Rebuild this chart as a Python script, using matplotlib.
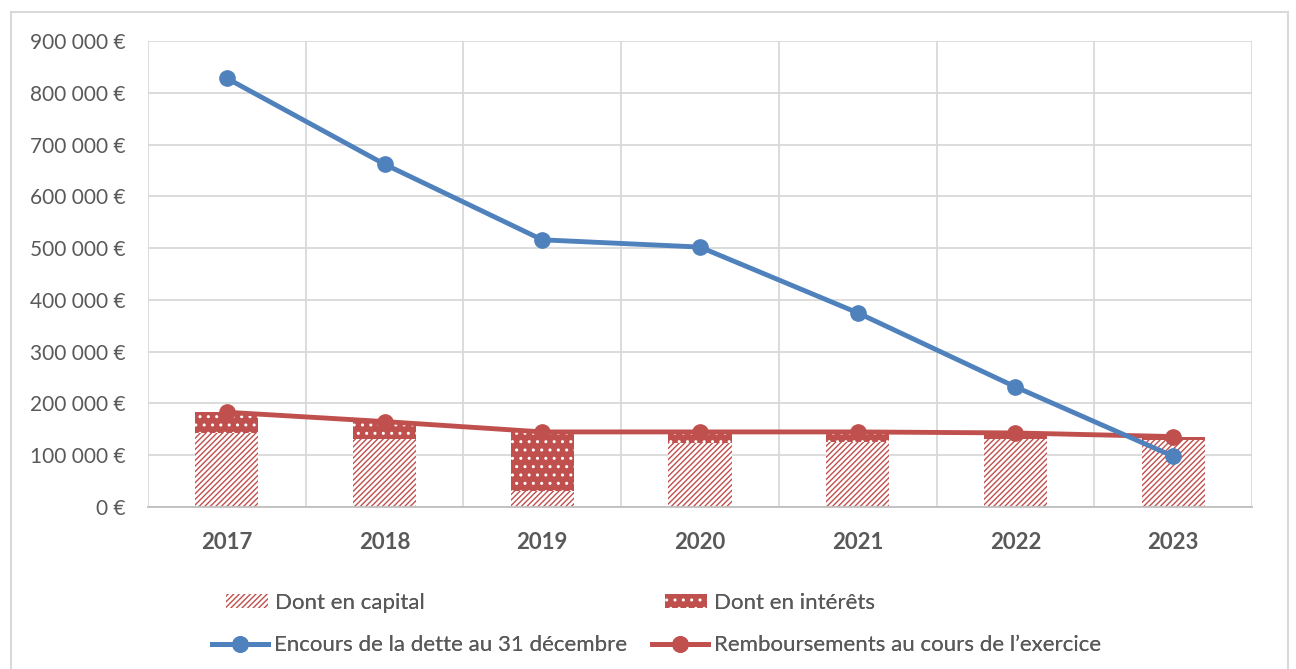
import matplotlib
matplotlib.use("Agg")
import matplotlib.pyplot as plt
from matplotlib.patches import Rectangle, Patch
from matplotlib.lines import Line2D
from matplotlib.ticker import FuncFormatter, MultipleLocator

years = ["2017", "2018", "2019", "2020", "2021", "2022", "2023"]
encours = [828000, 662000, 516000, 502000, 375000, 232000, 98000]
remboursements = [183000, 165000, 145000, 145000, 145000, 143000, 136000]
capital = [143000, 131000, 30000, 123000, 126000, 131000, 129000]
interets = [40000, 34000, 115000, 22000, 19000, 12000, 7000]

BLUE = "#4f81bd"
RED = "#c0504d"
GRID = "#d9d9d9"
TXT = "#595959"

plt.rcParams["font.family"] = ["Lato", "DejaVu Sans"]
plt.rcParams["hatch.linewidth"] = 1.0

W, H = 1296, 669
fig = plt.figure(figsize=(W/100, H/100), dpi=100)
ax = fig.add_axes([148/W, 1-507/H, (1252-148)/W, (507-41)/H])

x = list(range(len(years)))
ax.bar(x, capital, width=0.4, facecolor="white", edgecolor=RED, hatch="//////", linewidth=0, zorder=2)
ax.bar(x, interets, bottom=capital, width=0.4, facecolor=RED, edgecolor="white", hatch="..", linewidth=0, zorder=2)

ax.plot(x, remboursements, color=RED, lw=3.5, marker="o", ms=11, zorder=3, solid_capstyle="round")
ax.plot(x, encours, color=BLUE, lw=3.5, marker="o", ms=11, zorder=4, solid_capstyle="round")

ax.set_xlim(-0.5, 6.5)
ax.set_ylim(0, 900000)
ax.yaxis.set_major_locator(MultipleLocator(100000))
ax.yaxis.set_major_formatter(FuncFormatter(lambda v, p: (f"{int(v):,}".replace(",", " ") + " €") if v else "0 €"))
ax.set_xticks(x)
ax.set_xticklabels(years, fontweight="bold", fontsize=16, color=TXT)
for t in ax.get_yticklabels():
    t.set_fontsize(15)
    t.set_color(TXT)
ax.tick_params(axis="both", which="both", length=0)
ax.tick_params(axis="y", pad=16)
ax.tick_params(axis="x", pad=18)

ax.set_xticks([i - 0.5 for i in range(len(years) + 1)], minor=True)
ax.grid(True, axis="y", which="major", color=GRID, lw=1.3, zorder=0)
ax.grid(True, axis="x", which="minor", color=GRID, lw=1.3, zorder=0)
ax.set_axisbelow(True)
for s in ["top", "right", "left"]:
    ax.spines[s].set_visible(False)
ax.spines["bottom"].set_color("#bfbfbf")
ax.spines["bottom"].set_linewidth(1.3)

# outer border
fig.patches.append(Rectangle((11/W, -0.01), (1288-11)/W, 1-12/H + 0.01,
                             transform=fig.transFigure, fill=False, edgecolor=GRID, lw=1.5))

entries = [
    (Patch(facecolor="white", edgecolor=RED, hatch="//////", linewidth=0), "Dont en capital", 226, 603, 1.9),
    (Patch(facecolor=RED, edgecolor="white", hatch="..", linewidth=0), "Dont en intérêts", 665, 603, 1.9),
    (Line2D([], [], color=BLUE, lw=3.5, marker="o", ms=11), "Encours de la dette au 31 décembre", 212, 645, 2.5),
    (Line2D([], [], color=RED, lw=3.5, marker="o", ms=11), "Remboursements au cours de l’exercice", 652, 645, 2.5),
]
for h, lab, px, py, hl in entries:
    fig.add_artist(fig.legend([h], [lab], loc="center left", bbox_to_anchor=(px/W, 1-py/H),
                              frameon=False, fontsize=16, labelcolor=TXT, handlelength=hl,
                              handleheight=0.6, handletextpad=0.3, borderpad=0, borderaxespad=0))

fig.savefig("out.png", dpi=100)
